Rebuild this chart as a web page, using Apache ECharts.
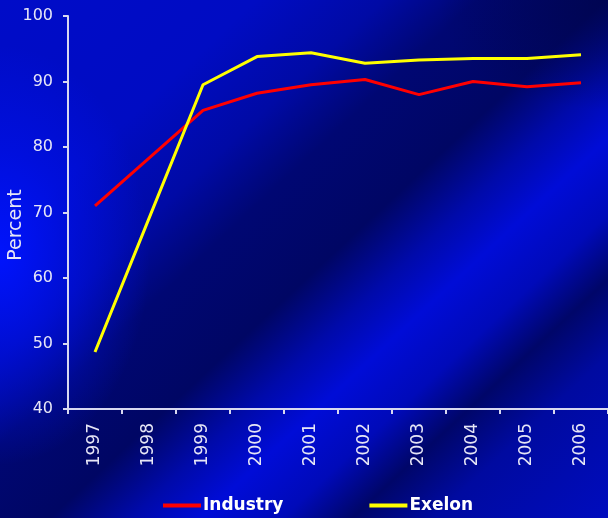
<!DOCTYPE html>
<html>
<head>
<meta charset="utf-8">
<script src="https://cdn.jsdelivr.net/npm/echarts@6/dist/echarts.min.js"></script>
<style>
  html, body { margin: 0; padding: 0; background: #000860; }
  /* Deep blue backdrop with dark diagonal streaks and a bright glow at the left */
  #chart {
    width: 608px; height: 518px;
    background:
      radial-gradient(ellipse 150px 210px at 0px 255px, rgba(0,20,255,0.95), rgba(0,18,245,0.5) 50%, rgba(0,16,240,0) 100%),
      radial-gradient(ellipse 170px 110px at 608px 0px, rgba(0,4,70,0.6), rgba(0,4,70,0) 100%),
      linear-gradient(137deg,
        rgb(0,12,200) 0%,
        rgb(0,12,195) 22%,
        rgb(0,10,165) 33%,
        rgb(0,7,115) 41%,
        rgb(0,6,100) 52%,
        rgb(0,10,170) 59%,
        rgb(0,12,215) 65%,
        rgb(0,10,185) 72%,
        rgb(0,6,105) 78%,
        rgb(0,10,160) 85%,
        rgb(0,12,190) 100%);
  }
</style>
</head>
<body>
<div id="chart"></div>
<script>
// Categories and series values
var years = ['1997', '1998', '1999', '2000', '2001', '2002', '2003', '2004', '2005', '2006'];
var industry = [71.0, 78.3, 85.6, 88.2, 89.5, 90.3, 88.0, 90.0, 89.2, 89.8];
var exelon = [48.7, 69.1, 89.5, 93.8, 94.4, 92.8, 93.3, 93.5, 93.5, 94.1];
var yTicks = [40, 50, 60, 70, 80, 90, 100];
var yTitle = 'Percent';

var chart = echarts.init(document.getElementById('chart'), null, { renderer: 'canvas' });

var textColor = '#e6e6f6';
var axisColor = '#d8d8f0';
var fontFamily = 'DejaVu Sans, Verdana, sans-serif';

var option = {
  animation: false,
  backgroundColor: 'transparent',
  graphic: [
    // Axis title, rotated along the value axis
    {
      type: 'text', z: 10, silent: true,
      x: 16, y: 225, rotation: Math.PI / 2,
      style: {
        text: yTitle, fill: textColor, fontSize: 19, fontFamily: fontFamily,
        align: 'center', verticalAlign: 'middle'
      }
    }
  ],
  grid: { left: 68, right: 0, top: 16, bottom: 109, containLabel: false, outerBoundsMode: 'none' },
  legend: {
    left: 158, top: 492,
    itemWidth: 38, itemHeight: 4, itemGap: 86,
    icon: 'rect',
    textStyle: { color: '#ffffff', fontSize: 17, fontWeight: 'bold', fontFamily: fontFamily, padding: [0, 0, 0, -3] },
    data: ['Industry', 'Exelon']
  },
  xAxis: {
    type: 'category',
    data: years,
    boundaryGap: true,
    axisLine: { lineStyle: { color: axisColor, width: 2 } },
    axisTick: { show: true, length: 5, inside: false, lineStyle: { color: axisColor, width: 2 } },
    axisLabel: {
      rotate: 90, margin: 14, color: textColor, fontSize: 17, fontFamily: fontFamily
    }
  },
  yAxis: {
    type: 'value',
    min: yTicks[0], max: yTicks[yTicks.length - 1], interval: 10,
    axisLine: { show: true, lineStyle: { color: axisColor, width: 2 } },
    axisTick: { show: true, length: 5, lineStyle: { color: axisColor, width: 2 } },
    splitLine: { show: false },
    axisLabel: { color: textColor, fontSize: 16, margin: 15, fontFamily: fontFamily }
  },
  series: [
    {
      name: 'Industry', type: 'line', data: industry,
      symbol: 'none', color: '#ff0000',
      lineStyle: { color: '#ff0000', width: 3 }
    },
    {
      name: 'Exelon', type: 'line', data: exelon,
      symbol: 'none', color: '#ffff00',
      lineStyle: { color: '#ffff00', width: 3 }
    }
  ]
};

chart.setOption(option);
</script>
</body>
</html>
